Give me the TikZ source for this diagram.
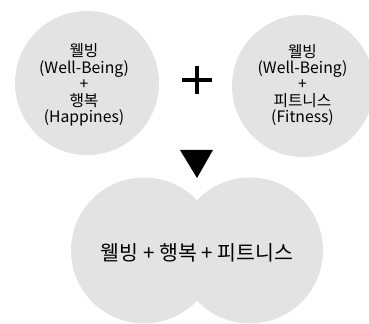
\documentclass[tikz,border=0pt]{standalone}
\usepackage{fontspec}
\setmainfont{Noto Sans CJK KR}
\usetikzlibrary{positioning}
\tikzset{>=latex}
\definecolor{blobgray}{HTML}{E3E3E3}

\begin{document}
\begin{tikzpicture}[x=0.75pt,y=-0.75pt,
    every text node part/.style={align=center},
    blob/.style={circle,fill=blobgray,inner sep=0pt},
    small/.style={font=\fontsize{11.8}{12.3}\selectfont,inner sep=0pt},
    big/.style={font=\fontsize{15.4}{17}\selectfont,inner sep=0pt}]
      \useasboundingbox (0,0) rectangle (369,324);

      \node[blob,minimum size=108pt] (WellHappyN) at (87,83)  {};
      \node[blob,minimum size=106.5pt] (WellFitN) at (303,86) {};

      \node[blob,minimum size=109.5pt] (MergeL) at (144,250.5) {};
      \node[blob,minimum size=109.5pt] (MergeR) at (250,250.5) {};

      \node[small] (WellHappyT) at (84,85)    {웰빙\\(Well-Being)\\+\\행복\\(Happines)};
      \node[small] (WellFitT)   at (302.5,85) {웰빙\\(Well-Being)\\+\\피트니스\\(Fitness)};
      \node[big]   (MergeT)     at (197,253)  {웰빙 + 행복 + 피트니스};

      % plus and arrow
      \draw[line width=3pt] (182,80) -- (212,80);
      \draw[line width=3pt] (197,66.5) -- (197,94.5);
      \fill (180,150) -- (213,150) -- (197,178) -- cycle;
\end{tikzpicture}
\end{document}
